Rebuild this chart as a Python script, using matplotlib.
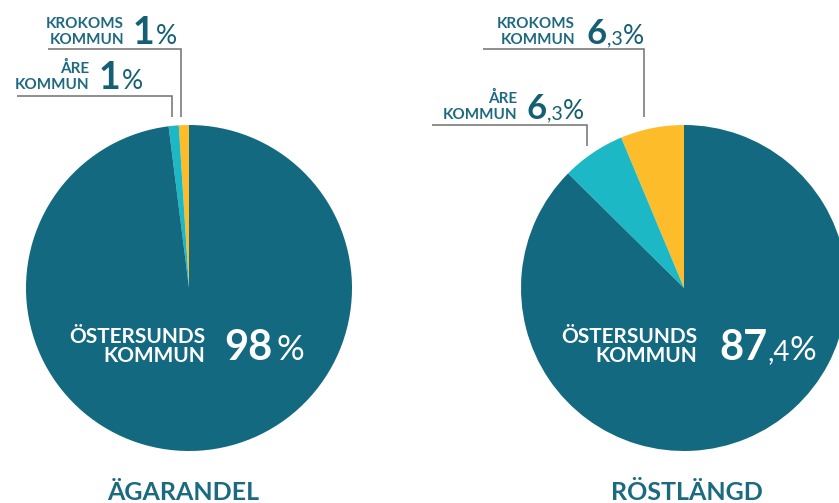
import matplotlib
matplotlib.use("Agg")
import matplotlib.pyplot as plt

# ---------------- data ----------------
kommuner = ["KROKOMS KOMMUN", "ÅRE KOMMUN", "ÖSTERSUNDS KOMMUN"]
agarandel = [1, 1, 98]          # percent
rostlangd = [6.3, 6.3, 87.4]    # percent
titles = ["ÄGARANDEL", "RÖSTLÄNGD"]

# ---------------- style ----------------
W, H = 839, 503
colors = ["#fdbd2b", "#1db8c5", "#13697f"]
label_col = "#1d6a80"
num_col = "#155f74"
line_col = "#707070"
FONT = "Lato"

fig = plt.figure(figsize=(W / 100, H / 100), dpi=100)
ax = fig.add_axes([0, 0, 1, 1])
ax.set_xlim(0, W)
ax.set_ylim(0, H)
ax.set_aspect("equal")
ax.axis("off")


def Y(py):
    return H - py


renderer = fig.canvas.get_renderer()


def number(x, yb, value, big, small, pct, color, gap=2, pgap=2):
    s = f"{value:g}"
    ip, _, dec = s.partition(".")
    t = ax.text(x, Y(yb), ip, fontsize=big, fontweight="bold", color=color,
                family=FONT, ha="left", va="baseline")
    x2 = t.get_window_extent(renderer).x1 + gap
    if dec:
        t2 = ax.text(x2, Y(yb), "," + dec, fontsize=small, fontweight="normal",
                     color=color, family=FONT, ha="left", va="baseline")
        x2 = t2.get_window_extent(renderer).x1 + pgap
    ax.text(x2, Y(yb), "%", fontsize=pct, fontweight="normal",
            color=color, family=FONT, ha="left", va="baseline")


def label(xr, yb1, yb2, text, size, color):
    l1, l2 = text.split(" ")
    ax.text(xr, Y(yb1), l1, fontsize=size, fontweight="bold", color=color,
            family=FONT, ha="right", va="baseline")
    ax.text(xr, Y(yb2), l2, fontsize=size, fontweight="bold", color=color,
            family=FONT, ha="right", va="baseline")


# ---------------- pies ----------------
centers = [(189, 288), (684, 288)]
radius = 163
for vals, (cx, cy) in zip([agarandel, rostlangd], centers):
    ax.pie(vals, colors=colors, startangle=90, counterclock=True,
           center=(cx, Y(cy)), radius=radius,
           wedgeprops=dict(linewidth=0, antialiased=True))
ax.set_xlim(0, W)
ax.set_ylim(0, H)
ax.set_aspect("equal")

# ---------------- leader lines ----------------
def leader(x0, x1, yh, yend):
    ax.plot([x0, x1, x1], [Y(yh), Y(yh), Y(yend)], color=line_col, lw=1.1,
            solid_capstyle="butt", solid_joinstyle="miter")

leader(48, 180.5, 49, 117)
leader(17, 172, 96, 117)
leader(483, 644, 49, 117)
leader(432, 587, 125, 146)

# ---------------- small labels ----------------
# left pie
label(124, 28, 44, kommuner[0], 11, label_col)
number(133, 44, agarandel[0], 27, 16, 19, num_col, gap=1)
label(89, 73, 89, kommuner[1], 11, label_col)
number(99, 89, agarandel[1], 27, 16, 19, num_col, gap=1)
# right pie
label(575, 28, 44, kommuner[0], 11, label_col)
number(587, 44, rostlangd[0], 25, 14, 19, num_col, gap=0, pgap=0)
label(517, 103, 119, kommuner[1], 11, label_col)
number(527, 119, rostlangd[1], 25, 14, 19, num_col, gap=0, pgap=0)

# ---------------- inner labels ----------------
label(205, 343, 362, kommuner[2], 15, "white")
number(224, 360, agarandel[2], 30, 20, 25, "white", gap=4)
label(697, 343, 362, kommuner[2], 15, "white")
number(719, 360, rostlangd[2], 30, 20, 24, "white", gap=0, pgap=0)

# ---------------- titles ----------------
for t, cx in zip(titles, [183, 687]):
    ax.text(cx, Y(500), t, fontsize=18, fontweight="bold", color="#1b6a80",
            family=FONT, ha="center", va="baseline")

fig.savefig("out.png", dpi=100)
